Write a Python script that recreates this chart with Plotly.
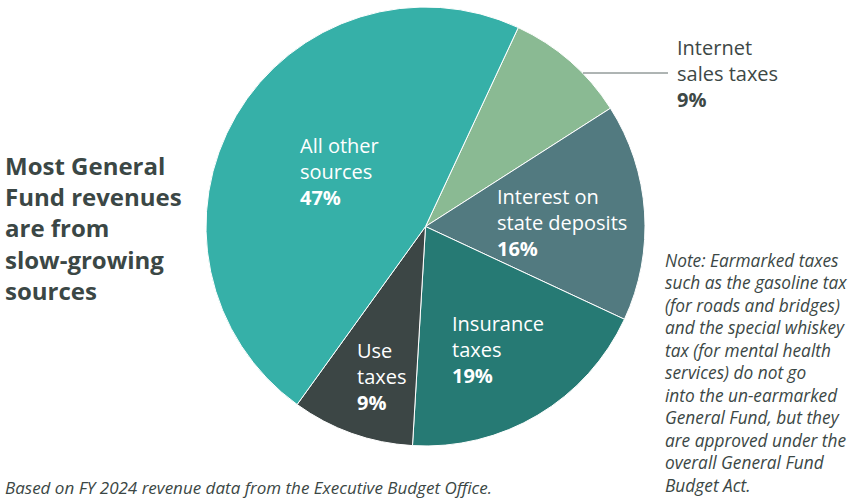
import plotly.graph_objects as go

# Revenue shares of the General Fund (percent)
categories = ["Internet sales taxes", "Interest on state deposits", "Insurance taxes",
              "Use taxes", "All other sources"]
label_lines = [["Internet", "sales taxes"], ["Interest on", "state deposits"],
               ["Insurance", "taxes"], ["Use", "taxes"], ["All other", "sources"]]
shares = [9, 16, 19, 9, 47]
colors = ["#8aba93", "#527a80", "#267a74", "#3c4645", "#36b0a8"]

# Label anchor positions in pixels (left edge, vertical middle of block) and text colour
label_pos = [(675, 73), (495, 222), (450, 349), (355, 376), (298, 171)]
label_color = ["#3d4846", "white", "white", "white", "white"]

W, H = 856, 499
FONT = "Open Sans"
DARK = "#3b4745"

fig = go.Figure(go.Pie(
    labels=categories,
    values=shares,
    sort=False,
    direction="clockwise",
    rotation=25,
    marker=dict(colors=colors, line=dict(color="white", width=1)),
    textinfo="none",
    hoverinfo="label+percent",
    domain=dict(x=[206 / W, 645 / W], y=[1 - 446 / H, 1 - 7 / H]),
    showlegend=False,
))


def text_at(px, py, text, size, color):
    return dict(
        x=px / W, y=1 - py / H, xref="paper", yref="paper",
        xanchor="left", yanchor="middle", align="left", showarrow=False,
        text=text, font=dict(family=FONT, size=size, color=color),
    )


annotations = []
for lines, val, (px, py), col in zip(label_lines, shares, label_pos, label_color):
    text = "<br>".join(lines) + f"<br><b>{val}%</b>"
    annotations.append(text_at(px, py, text, 20, col))

# Headline on the left
annotations.append(text_at(
    3, 228,
    "<b>Most General<br>Fund revenues<br>are from<br>slow-growing<br>sources</b>",
    24, DARK))

# Side note
note = ("Note: Earmarked taxes<br>such as the gasoline tax<br>(for roads and bridges)<br>"
        "and the special whiskey<br>tax (for mental health<br>services) do not go<br>"
        "into the un-earmarked<br>General Fund, but they<br>are approved under the<br>"
        "overall General Fund<br>Budget Act.")
annotations.append(text_at(663, 373, f"<i>{note}</i>", 17.3, DARK))

# Source line
annotations.append(text_at(
    3, 487, "<i>Based on FY 2024 revenue data from the Executive Budget Office.</i>",
    17, DARK))

# Leader line for the small outside label
shapes = [dict(type="line", xref="paper", yref="paper",
               x0=583 / W, x1=668 / W, y0=1 - 73 / H, y1=1 - 73 / H,
               line=dict(color="#5f6b69", width=1))]

fig.update_layout(
    width=W, height=H,
    margin=dict(l=0, r=0, t=0, b=0),
    paper_bgcolor="white", plot_bgcolor="white",
    annotations=annotations, shapes=shapes,
    font=dict(family=FONT),
)

fig.write_html("out.html")
